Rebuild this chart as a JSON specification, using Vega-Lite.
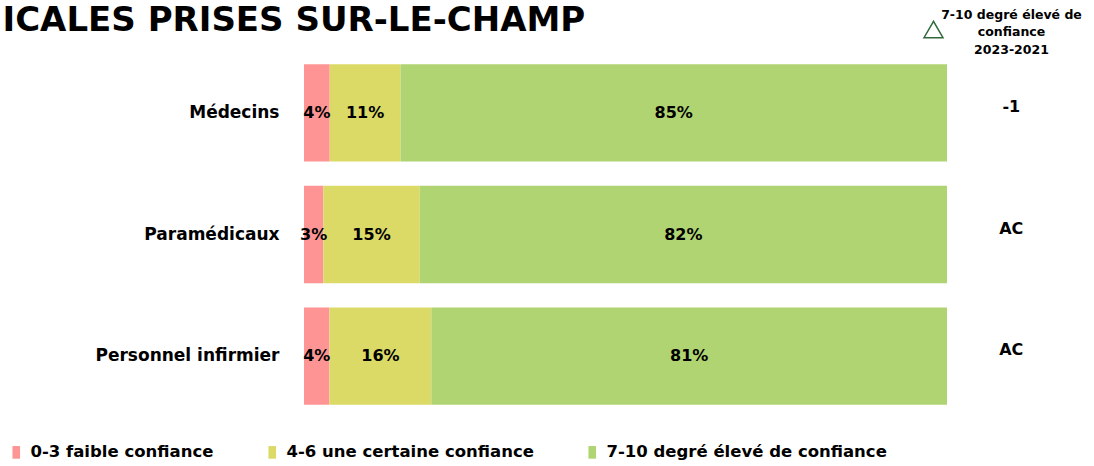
{
  "$schema": "https://vega.github.io/schema/vega-lite/v6.json",
  "width": 643,
  "height": 365,
  "autosize": {"type": "none"},
  "padding": {"left": 304, "top": 52, "right": 147, "bottom": 49},
  "background": "white",
  "config": {
    "font": "DejaVu Sans",
    "view": {"stroke": null},
    "axisY": {"domain": false, "ticks": false, "grid": false, "labelFont": "DejaVu Sans", "labelFontSize": 17, "labelFontWeight": "bold", "labelColor": "black", "labelPadding": 25, "labelLimit": 300}
  },
  "data": {"values": [
    {"role": "Médecins", "cat": "0-3 faible confiance", "p": 0.04},
    {"role": "Médecins", "cat": "4-6 une certaine confiance", "p": 0.11},
    {"role": "Médecins", "cat": "7-10 degré élevé de confiance", "p": 0.85},
    {"role": "Paramédicaux", "cat": "0-3 faible confiance", "p": 0.03},
    {"role": "Paramédicaux", "cat": "4-6 une certaine confiance", "p": 0.15},
    {"role": "Paramédicaux", "cat": "7-10 degré élevé de confiance", "p": 0.82},
    {"role": "Personnel infirmier", "cat": "0-3 faible confiance", "p": 0.04},
    {"role": "Personnel infirmier", "cat": "4-6 une certaine confiance", "p": 0.16},
    {"role": "Personnel infirmier", "cat": "7-10 degré élevé de confiance", "p": 0.81}
  ]},
  "layer": [
    {
      "mark": {"type": "bar"},
      "encoding": {
        "y": {"field": "role", "type": "nominal",
          "scale": {"domain": ["Médecins", "Paramédicaux", "Personnel infirmier"], "paddingInner": 0.2, "paddingOuter": 0.1},
          "axis": {"title": "ICALES PRISES SUR-LE-CHAMP", "titleAngle": 0, "titleAlign": "left", "titleBaseline": "alphabetic", "titleX": -302, "titleY": -22, "titleFont": "DejaVu Sans", "titleFontSize": 34, "titleFontWeight": "bold", "titleColor": "black"}},
        "x": {"field": "p", "type": "quantitative", "stack": "normalize", "scale": {"domain": [0, 1], "nice": false},
          "axis": {"orient": "top", "labels": false, "ticks": false, "domain": false, "grid": false,
            "title": ["7-10 degré élevé de", "confiance", "2023-2021"], "titleX": 707, "titleY": -44, "titleAlign": "center", "titleBaseline": "top", "titleAnchor": null, "titleFont": "DejaVu Sans", "titleFontSize": 12.5, "titleFontWeight": "bold", "titleColor": "black", "titleLineHeight": 17.5}},
        "color": {"field": "cat", "type": "nominal",
          "scale": {"domain": ["0-3 faible confiance", "4-6 une certaine confiance", "7-10 degré élevé de confiance"], "range": ["#FF9494", "#DBDA66", "#B1D472"]},
          "legend": {"orient": "none", "legendX": -296, "legendY": 392, "direction": "horizontal", "title": null, "symbolType": "M-0.6,-1H0.6V1H-0.6Z", "symbolSize": 160, "symbolStrokeWidth": 0, "labelFont": "DejaVu Sans", "labelFontSize": 16.5, "labelFontWeight": "bold", "labelColor": "black", "labelLimit": 400, "columnPadding": 50, "labelOffset": 6}}
      }
    },
    {
      "mark": {"type": "text", "font": "DejaVu Sans", "fontSize": 16, "fontWeight": "bold", "color": "black"},
      "encoding": {
        "y": {"field": "role", "type": "nominal"},
        "x": {"field": "p", "type": "quantitative", "stack": "normalize", "bandPosition": 0.5},
        "detail": {"field": "cat"},
        "text": {"field": "p", "type": "quantitative", "format": ".0%"}
      }
    },
    {
      "data": {"values": [
        {"role": "Médecins", "delta": "-1", "cmp": "7-10 2023-2021"},
        {"role": "Paramédicaux", "delta": "AC", "cmp": "7-10 2023-2021"},
        {"role": "Personnel infirmier", "delta": "AC", "cmp": "7-10 2023-2021"}
      ]},
      "layer": [
        {
          "mark": {"type": "text", "font": "DejaVu Sans", "fontSize": 16, "fontWeight": "bold", "color": "black", "dy": -6},
          "encoding": {
            "y": {"field": "role", "type": "nominal"},
            "x": {"datum": 1.1, "type": "quantitative"},
            "text": {"field": "delta"}
          }
        },
        {
          "mark": {"type": "point", "opacity": 0, "filled": false},
          "encoding": {
            "y": {"field": "role", "type": "nominal"},
            "x": {"datum": 1.1, "type": "quantitative"},
            "shape": {"field": "cmp", "type": "nominal", "scale": {"range": ["triangle-up"]},
              "legend": {"orient": "none", "legendX": 619, "legendY": -33, "title": null, "labelExpr": "''", "symbolType": "triangle-up", "symbolSize": 360, "symbolStrokeColor": "#2E6B3A", "symbolFillColor": "transparent", "symbolStrokeWidth": 1.5, "symbolOpacity": 1}}
          }
        }
      ]
    }
  ]
}
